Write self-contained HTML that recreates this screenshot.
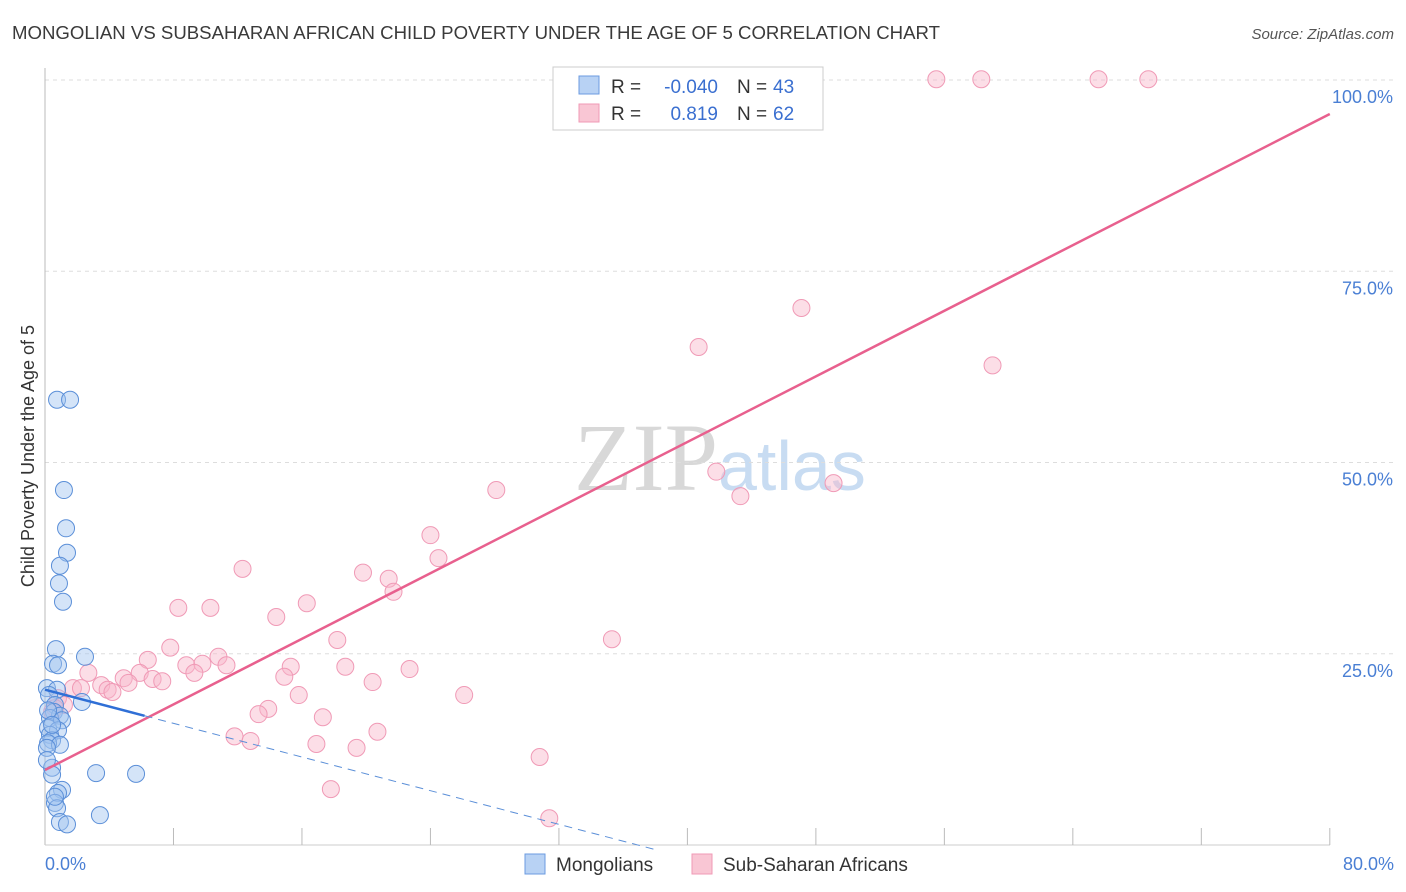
<!DOCTYPE html>
<html><head><meta charset="utf-8"><style>
body{margin:0;background:#fff;font-family:"Liberation Sans",sans-serif}
svg{display:block}
</style></head><body>
<svg width="1406" height="892">
<text x="12" y="39" font-size="18" fill="#3a3a3a" textLength="928" lengthAdjust="spacingAndGlyphs">MONGOLIAN VS SUBSAHARAN AFRICAN CHILD POVERTY UNDER THE AGE OF 5 CORRELATION CHART</text>
<text x="1394" y="39" font-size="15" font-style="italic" fill="#555" text-anchor="end">Source: ZipAtlas.com</text>
<text x="718" y="490" font-size="96" fill="#d8d8d8" text-anchor="end" font-family="Liberation Serif,serif">ZIP</text>
<text x="718" y="490" font-size="70" fill="#c8dcf2">atlas</text>
<g id="grid"></g><g id="axes"></g><g id="pts"></g><g id="lines"></g>
<text transform="translate(34,456) rotate(-90)" font-size="18" fill="#333" text-anchor="middle">Child Poverty Under the Age of 5</text>
<text x="45" y="870" font-size="18" fill="#4a7fd4">0.0%</text>
<text x="1394" y="870" font-size="18" fill="#4a7fd4" text-anchor="end">80.0%</text>
<g>
<rect x="553" y="67" width="270" height="63" fill="#fff" stroke="#ccc"/>
<rect x="579" y="76" width="20" height="18" fill="#b8d2f4" stroke="#6b9be0"/>
<rect x="579" y="104" width="20" height="18" fill="#f9c6d4" stroke="#f09ab6"/>
<text y="93" font-size="19" fill="#333"><tspan x="611">R =</tspan><tspan x="718" text-anchor="end" fill="#3a6fd0">-0.040</tspan><tspan x="737">N =</tspan><tspan x="773" fill="#3a6fd0">43</tspan></text>
<text y="120" font-size="19" fill="#333"><tspan x="611">R =</tspan><tspan x="718" text-anchor="end" fill="#3a6fd0">0.819</tspan><tspan x="737">N =</tspan><tspan x="773" fill="#3a6fd0">62</tspan></text>
</g>
<g>
<rect x="525" y="854" width="20" height="20" fill="#b8d2f4" stroke="#6b9be0"/>
<text x="556" y="871" font-size="19" fill="#333">Mongolians</text>
<rect x="692" y="854" width="20" height="20" fill="#f9c6d4" stroke="#f09ab6"/>
<text x="723" y="871" font-size="19" fill="#333">Sub-Saharan Africans</text>
</g>
</svg>
<script>
const yTicks=[25,50,75,100];
const yTickLabels=["25.0%","50.0%","75.0%","100.0%"];
const xTicks=[8,16,24,32,40,48,56,64,72,80];
const monX=[.75,1.56,1.18,1.31,1.37,.93,.87,1.12,.68,.5,.81,2.49,.12,.75,.25,2.3,.62,.56,.93,.31,1.06,.19,.81,.31,.44,.19,.93,.12,.44,.44,3.18,5.67,1.06,.81,.62,.75,.93,1.37,3.42,.19,.44,.12,.62];
const monY=[58.2,58.2,46.4,41.4,38.2,36.5,34.2,31.8,25.6,23.7,23.5,24.6,20.5,20.3,19.6,18.7,18.3,17.4,16.9,16.6,16.3,15.3,15,14.4,13.7,13.3,13.1,12.7,10.1,9.2,9.4,9.3,7.2,6.8,5.5,4.8,3,2.7,3.9,17.6,15.7,11.1,6.3];
const ssaX=[55.5,58.3,65.6,68.7,47.1,40.7,59,41.8,43.3,49.1,28.1,24,24.5,12.3,19.8,21.4,21.7,8.3,10.3,16.3,14.4,35.3,18.2,7.8,6.4,8.8,10.8,9.8,11.3,9.3,15.3,18.7,22.7,14.9,2.7,4.9,5.9,3.5,3.9,5.2,6.7,7.3,1.74,2.24,4.2,20.4,15.8,26.1,.81,1.18,.44,.62,13.9,13.3,17.3,11.8,12.8,20.7,16.9,19.4,30.8,17.8,31.4];
const ssaY=[100.1,100.1,100.1,100.1,70.2,65.1,62.7,48.8,45.6,47.3,46.4,40.5,37.5,36.1,35.6,34.8,33.1,31,31,31.6,29.8,26.9,26.8,25.8,24.2,23.5,24.6,23.7,23.5,22.5,23.3,23.3,23,22,22.5,21.8,22.5,20.9,20.3,21.2,21.7,21.4,20.5,20.5,20,21.3,19.6,19.6,19.2,18.3,17.4,17.9,17.8,17.1,16.7,14.2,13.6,14.8,13.2,12.7,11.5,7.3,3.5];
const monFit=[20.3,-0.55]; const monSolidEnd=6.2; const monDashEnd=38;
const ssaFit=[9.8,1.072];
const NS='http://www.w3.org/2000/svg';
const X=v=>45+v*16.06, Y=v=>845-v*7.65;
function mk(t,a,p){const e=document.createElementNS(NS,t);for(const k in a)e.setAttribute(k,a[k]);p.appendChild(e);return e;}
const g=document.getElementById('grid'),ax=document.getElementById('axes'),pts=document.getElementById('pts'),ln=document.getElementById('lines');
yTicks.forEach((t,i)=>{
 const l=mk('line',{x1:45,x2:1395,y1:Y(t),y2:Y(t),stroke:'#ddd','stroke-dasharray':'4 4'},g);
 
 
 const tx=mk('text',{x:1393,y:Y(t)+23,'font-size':18,fill:'#4a7fd4','text-anchor':'end'},g);
 tx.textContent=yTickLabels[i];
 
 
});
const ya=mk('line',{x1:45,x2:45,y1:68,y2:845,stroke:'#bbb'},ax);


const xa=mk('line',{x1:45,x2:1330,y1:845,y2:845,stroke:'#ccc'},ax);


xTicks.forEach(t=>{const l=mk('line',{x1:X(t),x2:X(t),y1:828,y2:845,stroke:'#bbb'},ax);
 
 });
ssaX.forEach((v,i)=>{const c=mk('circle',{cx:X(v),cy:Y(ssaY[i]),r:8.5,fill:'rgba(248,182,202,0.45)',stroke:'#f09ab6','stroke-width':1},pts);
 
 });
monX.forEach((v,i)=>{const c=mk('circle',{cx:X(v),cy:Y(monY[i]),r:8.5,fill:'rgba(160,196,240,0.45)',stroke:'#5b8fd8','stroke-width':1},pts);
 
 });
const l1=mk('line',{x1:X(0),y1:Y(ssaFit[0]),x2:X(80),y2:Y(ssaFit[0]+ssaFit[1]*80),stroke:'#e8608e','stroke-width':2.5},ln);


const l2=mk('line',{x1:X(0),y1:Y(monFit[0]),x2:X(monSolidEnd),y2:Y(monFit[0]+monFit[1]*monSolidEnd),stroke:'#2f6fd6','stroke-width':2.5},ln);


const l3=mk('line',{x1:X(monSolidEnd),y1:Y(monFit[0]+monFit[1]*monSolidEnd),x2:X(monDashEnd),y2:Y(monFit[0]+monFit[1]*monDashEnd),stroke:'#5b8fd8','stroke-width':1,'stroke-dasharray':'8 6'},ln);


</script>
</body></html>
